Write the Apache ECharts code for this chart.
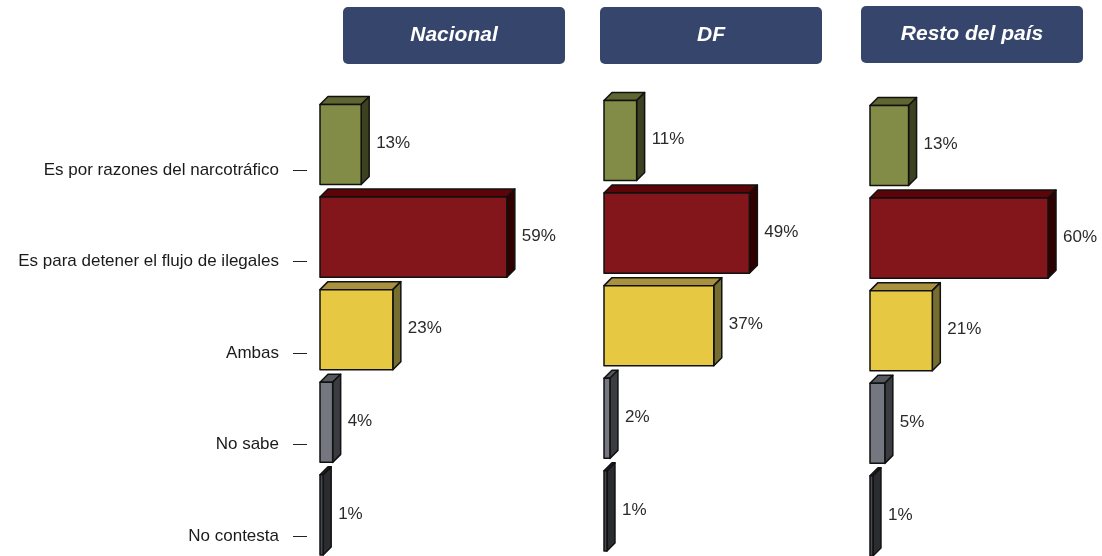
<!DOCTYPE html>
<html>
<head>
<meta charset="utf-8">
<title>Narcotráfico / ilegales</title>
<script src="https://cdn.jsdelivr.net/npm/echarts@6/dist/echarts.min.js"></script>
<style>
	html, body { margin: 0; padding: 0; background: #fff; }
	#chart { width: 1102px; height: 556px; }
</style>
</head>
<body>
<div id="chart"></div>
<script>
var categories = ['Es por razones del narcotráfico', 'Es para detener el flujo de ilegales', 'Ambas', 'No sabe', 'No contesta'];
var panelTitles = ['Nacional', 'DF', 'Resto del país'];
var nacional = [13, 59, 23, 4, 1];
var df = [11, 49, 37, 2, 1];
var resto = [13, 60, 21, 5, 1];

// front / top / side colour of each answer
var faceColors = [
	['#838c46', '#5f6632', '#3c4120'],
	['#83161a', '#5c0408', '#2e0000'],
	['#e6c843', '#a8913f', '#766e30'],
	['#74777f', '#55585f', '#3a3c41'],
	['#46494f', '#34363b', '#2a2c30']
];

var myChart = echarts.init(document.getElementById('chart'));

function toData(arr){
	var out = [];
	arr.forEach(function(v, i){
		out.push([v, i]);
	});
	return out;
}

function renderBox(params, api){
	var v = api.value(0);
	var c = api.value(1);
	var start = api.coord([0, c]);
	var end = api.coord([v, c]);
	var band = api.size([0, 1])[1];
	var h = band * 0.865;
	var x0 = start[0], x1 = end[0], yc = start[1];
	var y0 = yc - h / 2, y1 = yc + h / 2;
	var d = 8;
	var col = faceColors[params.dataIndex];
	var line = { stroke: '#111', lineWidth: 1.5, lineJoin: 'round' };
	return {
		type: 'group',
		children: [
			{ type: 'polygon', shape: { points: [[x0, y0], [x0 + d, y0 - d], [x1 + d, y0 - d], [x1, y0]] },
				style: Object.assign({ fill: col[1] }, line) },
			{ type: 'polygon', shape: { points: [[x1, y0], [x1 + d, y0 - d], [x1 + d, y1 - d], [x1, y1]] },
				style: Object.assign({ fill: col[2] }, line) },
			{ type: 'polygon', shape: { points: [[x0, y0], [x1, y0], [x1, y1], [x0, y1]] },
				style: Object.assign({ fill: col[0] }, line) },
			{ type: 'text', style: { text: v + '%', x: x1 + 15, y: yc - 1, fill: '#2a2a2a',
				font: '17px "Liberation Sans", Arial, sans-serif', textAlign: 'left', textVerticalAlign: 'middle' } }
		]
	};
}

var panels = [
	{ left: 320, top: 98.2, width: 190, data: nacional },
	{ left: 604, top: 94.2, width: 178, data: df },
	{ left: 870, top: 99.2, width: 178, data: resto }
];
var headers = [
	{ x: 343, y: 7, w: 222, h: 57 },
	{ x: 600, y: 7, w: 222, h: 57 },
	{ x: 861, y: 6, w: 222, h: 57 }
];

var grids = [], xAxes = [], yAxes = [], series = [], graphics = [];

panels.forEach(function(p, i){
	grids.push({ left: p.left, top: p.top, width: p.width, height: 463, outerBoundsMode: 'none', containLabel: false });
	xAxes.push({ gridIndex: i, type: 'value', min: 0, max: 60, show: false });
	yAxes.push({ gridIndex: i, type: 'category', data: categories, inverse: true, show: false });
	series.push({
		type: 'custom',
		xAxisIndex: i,
		yAxisIndex: i,
		renderItem: renderBox,
		encode: { x: 0, y: 1 },
		data: toData(p.data),
		silent: true
	});
	var hd = headers[i];
	graphics.push({
		type: 'rect',
		shape: { x: hd.x, y: hd.y, width: hd.w, height: hd.h, r: 5 },
		style: { fill: '#36456b' },
		textContent: { style: { text: panelTitles[i], fill: '#fff', font: 'italic bold 21px "Liberation Sans", Arial, sans-serif' } },
		textConfig: { position: 'inside' }
	});
});

// grid that only carries the category labels and their ticks
grids.push({ left: 307, top: 124.25, width: 1, height: 457.5, outerBoundsMode: 'none', containLabel: false });
xAxes.push({ gridIndex: 3, type: 'value', show: false });
yAxes.push({
	gridIndex: 3,
	type: 'category',
	data: categories,
	inverse: true,
	axisLine: { show: false },
	axisTick: { show: true, alignWithLabel: true, length: 14, lineStyle: { color: '#222', width: 1 } },
	axisLabel: { interval: 0, margin: 28, color: '#1a1a1a', fontSize: 17, fontFamily: '"Liberation Sans", Arial, sans-serif' }
});

option = {
	animation: false,
	backgroundColor: '#fff',
	grid: grids,
	xAxis: xAxes,
	yAxis: yAxes,
	series: series,
	graphic: graphics
};

myChart.setOption(option);
</script>
</body>
</html>
